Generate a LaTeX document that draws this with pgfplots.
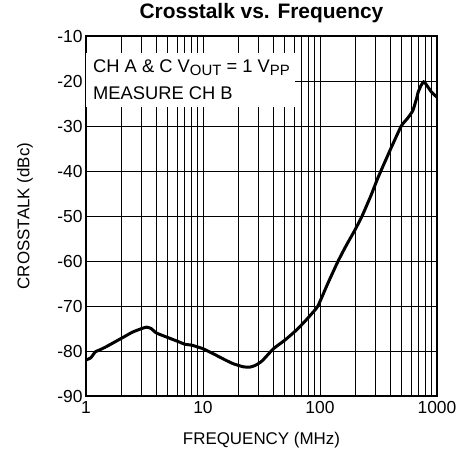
\documentclass[border=0pt]{standalone}
\usepackage{fontspec}
\setmainfont{Liberation Sans}
\usepackage{pgfplots}
\pgfplotsset{compat=1.18}
\begin{document}
\begin{tikzpicture}
\begin{axis}[
 scale only axis, width=351bp, height=360bp,
 xmode=log, xmin=1, xmax=1000, ymin=-90, ymax=-10,
 log basis x=10,
 xtick={1,10,100,1000}, xticklabels={1,10,100,1000},
 minor xtick={2,3,4,5,6,7,8,9,20,30,40,50,60,70,80,90,200,300,400,500,600,700,800,900},
 ytick={-90,-80,-70,-60,-50,-40,-30,-20,-10},
 yticklabels={-90,-80,-70,-60,-50,-40,-30,-20,-10},
 minor ytick={},
 grid=both,
 major grid style={black, line width=0.8bp},
 minor grid style={black, line width=0.8bp},
 major tick length=0pt, minor tick length=0pt,
 axis line style={black, line width=1.2bp},
 ticklabel style={font=\fontsize{17.5}{20}\selectfont},
 xticklabel style={yshift=-2bp},
 xlabel={FREQUENCY (MHz)}, ylabel={CROSSTALK (dBc)},
 label style={font=\fontsize{17}{20}\selectfont},
 xlabel style={at={(axis description cs:0.5,0)}, anchor=center, yshift=-44bp},
 ylabel style={at={(axis description cs:-0.1738,0.5)}, anchor=center},
 title={Crosstalk vs. Frequency},
 title style={font=\bfseries\fontsize{21}{25}\selectfont, yshift=4bp},
 clip=true,
]
\fill[white] (axis cs:1,-13.8) rectangle (axis cs:61,-25.8);
\node[anchor=west, inner sep=0pt, font=\fontsize{18.4}{21}\selectfont] at (axis cs:1,-17.1) [xshift=7bp]
 {CH A \& C V\raisebox{-0.35ex}{\fontsize{15}{15}\selectfont OUT} = 1 V\raisebox{-0.35ex}{\fontsize{15}{15}\selectfont PP}};
\node[anchor=west, inner sep=0pt, font=\fontsize{18.4}{21}\selectfont] at (axis cs:1,-22.7) [xshift=7bp] {MEASURE CH B};
\addplot[black, line width=3bp, smooth, tension=0.3] coordinates {
(1,-82) (1.1,-81.5) (1.2,-80.2) (1.3,-79.8) (1.5,-79) (2,-77.2) (2.5,-75.8)
(3,-75) (3.3,-74.7) (3.6,-75) (4,-76) (5,-77) (6,-77.8) (7,-78.5) (8,-78.7)
(10,-79.5) (12,-80.5) (15,-81.8) (18,-82.8) (22,-83.5) (25,-83.6) (28,-83.2)
(32,-82.2) (40,-79.5) (50,-77.6) (62,-75.5) (75,-73.3) (85,-71.7) (96,-70)
(117,-64.9) (143,-60) (168,-56.5) (200,-53) (229,-50) (273,-45.4) (314,-41.4)
(400,-35.2) (495,-30) (560,-28.3) (621,-26.6) (667,-24) (690,-22.5) (730,-21)
(770,-20.2) (800,-20.6) (900,-22.5) (1000,-23.6)
};
\end{axis}
\pgfresetboundingbox
\path[use as bounding box] (-86bp,-60bp) rectangle (385bp,396bp);
\end{tikzpicture}
\end{document}
